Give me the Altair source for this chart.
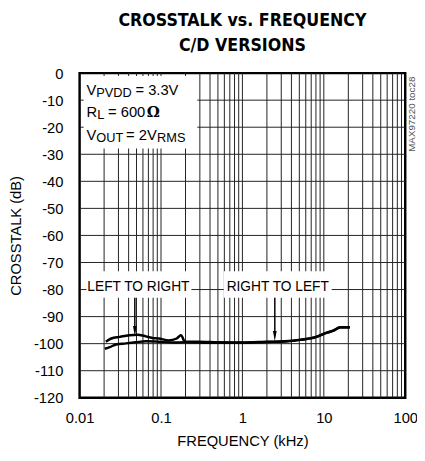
import altair as alt
import pandas as pd

FONT = "Liberation Sans, Arial, sans-serif"
TFONT = "DejaVu Sans Condensed, Liberation Sans, sans-serif"

# ---- data ----
freq_lr = [0.021, 0.0245, 0.031, 0.041, 0.051, 0.065, 0.078, 0.094, 0.124, 0.156,
           0.176, 0.197, 0.285, 0.5, 1.0, 2.0, 3.3, 5.2, 8.0, 10.4, 13.2, 15.8, 20.9]
db_lr = [-99.3, -98.1, -97.5, -96.9, -96.7, -97.3, -97.9, -98.1, -98.8, -98.1,
         -96.9, -99.3, -99.3, -99.5, -99.6, -99.3, -99.1, -98.5, -97.5, -96.1, -95.1, -93.9, -93.9]

freq_rl = [0.0204, 0.0235, 0.028, 0.037, 0.049, 0.065, 0.094, 0.136, 0.2, 0.3,
           0.5, 0.9, 2.07, 3.3, 5.2, 8.0, 10.4, 13.2, 15.8, 20.9]
db_rl = [-101.9, -101.3, -100.3, -99.9, -99.5, -99.1, -99.3, -99.6, -99.5, -99.6,
         -99.7, -99.7, -99.4, -99.2, -98.6, -97.6, -96.2, -95.2, -94.0, -94.0]

x_major = [0.01, 0.1, 1, 10, 100]
x_grid = [round(b * k, 6) for b in [0.01, 0.1, 1, 10] for k in range(1, 10)] + [100]
y_ticks = list(range(-120, 1, 10))

# white label boxes (data units)
box_x1 = [0.0112, 0.01214, 0.590]
box_x2 = [0.279, 0.2363, 12.5]
box_y1 = [-1.1, -73.2, -73.2]
box_y2 = [-27.9, -83.0, -83.0]

# curve labels
lab_text = ["LEFT TO RIGHT", "RIGHT TO LEFT"]
lab_x = [0.0528, 2.715]
lab_y = [-80.5, -80.5]

# arrows
arrow_x = [0.0477, 2.5]
arrow_top = [-83.0, -83.0]
arrow_head = [-95.4, -97.2]

# condition text
main_text = ["V", "= 3.3V", "R", "= 600", "V", "= 2V"]
main_x = [0.01214, 0.0486, 0.01214, 0.02235, 0.01214, 0.0372]
main_y = [-8.0, -8.0, -16.3, -16.3, -24.7, -24.7]
sub_text = ["PVDD", "L", "OUT", "RMS"]
sub_x = [0.01603, 0.01648, 0.01603, 0.0895]
sub_y = [-8.0, -16.3, -24.7, -24.7]
omega_text = ["\u03a9"]
omega_x = [0.0668]
omega_y = [-16.3]

note_text = ["MAX97220 toc28"]
note_x = [121]
note_y = [-15.2]

# ---- tables ----
curves = pd.concat([
    pd.DataFrame({"f": freq_lr, "db": db_lr, "s": "LEFT TO RIGHT"}),
    pd.DataFrame({"f": freq_rl, "db": db_rl, "s": "RIGHT TO LEFT"}),
])
vgrid = pd.DataFrame({"f": [v for v in x_grid if v not in (0.01, 100)]})
hgrid = pd.DataFrame({"db": [v for v in y_ticks if v not in (0, -120)]})
boxes = pd.DataFrame({"x1": box_x1, "x2": box_x2, "y1": box_y1, "y2": box_y2})
labels = pd.DataFrame({"t": lab_text, "f": lab_x, "db": lab_y})
arrows = pd.DataFrame({"f": arrow_x, "top": arrow_top, "head": arrow_head})
mains = pd.DataFrame({"t": main_text, "f": main_x, "db": main_y})
subs = pd.DataFrame({"t": sub_text, "f": sub_x, "db": sub_y})
omegas = pd.DataFrame({"t": omega_text, "f": omega_x, "db": omega_y})
notes = pd.DataFrame({"t": note_text, "f": note_x, "db": note_y})

xs = alt.Scale(type="log", domain=[0.01, 100], nice=False)
ys = alt.Scale(domain=[-120, 0], nice=False, zero=False)

x_axis = alt.Axis(values=x_major, labelExpr="toString(datum.value)", title="FREQUENCY (kHz)",
                  grid=False, ticks=False, domain=False, labelFlush=False,
                  labelOverlap=False, labelPadding=13, titlePadding=9)
y_axis = alt.Axis(values=y_ticks, labelExpr="toString(datum.value)", title="CROSSTALK (dB)",
                  grid=False, ticks=False, domain=False, labelPadding=17, titlePadding=10,
                  labelFlush=False, labelOverlap=False)


def X(field):
    return alt.X(field, scale=xs, axis=x_axis, title="FREQUENCY (kHz)")


def Y(field):
    return alt.Y(field, scale=ys, axis=y_axis, title="CROSSTALK (dB)")


vlines = alt.Chart(vgrid).mark_rule(color="#222", strokeWidth=1).encode(x=X("f:Q"))
hlines = alt.Chart(hgrid).mark_rule(color="#222", strokeWidth=1).encode(y=Y("db:Q"))

wboxes = alt.Chart(boxes).mark_rect(fill="white", stroke=None).encode(
    x=X("x1:Q"), x2="x2:Q", y=Y("y1:Q"), y2="y2:Q")

lines = alt.Chart(curves).mark_line(color="black", strokeWidth=2.5, interpolate="monotone").encode(
    x=X("f:Q"), y=Y("db:Q"), detail="s:N")

lab = alt.Chart(labels).mark_text(font=FONT, fontSize=14, align="center",
                                  baseline="alphabetic", color="black").encode(
    x=X("f:Q"), y=Y("db:Q"), text="t:N")

arr_line = alt.Chart(arrows).mark_rule(color="black", strokeWidth=1.5).encode(
    x=X("f:Q"), y=Y("top:Q"), y2="head:Q")
arr_head = alt.Chart(arrows).mark_point(shape="M-0.36,-1L0.36,-1L0,1Z", size=110,
                                         filled=True, color="black", opacity=1).encode(
    x=X("f:Q"), y=Y("head:Q"))

t_main = alt.Chart(mains).mark_text(font=FONT, fontSize=15, align="left",
                                    baseline="alphabetic", color="black").encode(
    x=X("f:Q"), y=Y("db:Q"), text="t:N")
t_sub = alt.Chart(subs).mark_text(font=FONT, fontSize=13, align="left", dy=2,
                                  baseline="alphabetic", color="black").encode(
    x=X("f:Q"), y=Y("db:Q"), text="t:N")
t_om = alt.Chart(omegas).mark_text(font="DejaVu Serif, serif", fontSize=15, fontWeight="bold",
                                   align="left", baseline="alphabetic", color="black").encode(
    x=X("f:Q"), y=Y("db:Q"), text="t:N")
t_note = alt.Chart(notes).mark_text(font=FONT, fontSize=10, angle=270, align="center",
                                    baseline="middle", color="#555").encode(
    x=X("f:Q"), y=Y("db:Q"), text="t:N")

chart = alt.layer(vlines, hlines, wboxes, lines, lab, arr_line, arr_head,
                  t_main, t_sub, t_om, t_note).properties(
    width=332, height=331,
    autosize=alt.AutoSizeParams(type="none"),
    padding={"left": 73, "top": 62, "right": 12, "bottom": 55},
    title=alt.TitleParams(text=["CROSSTALK vs. FREQUENCY", "C/D VERSIONS"], font=TFONT,
                          fontSize=18, fontWeight="bold", anchor="middle", offset=12,
                          lineHeight=25, color="black"),
).configure_view(
    stroke="black", strokeWidth=2.5
).configure_axis(
    labelFont=FONT, titleFont=FONT, labelFontSize=15, titleFontSize=15,
    labelColor="black", titleColor="black", titleFontWeight="normal",
)

chart.save("out.html", embed_options={"renderer": "svg", "actions": False})
